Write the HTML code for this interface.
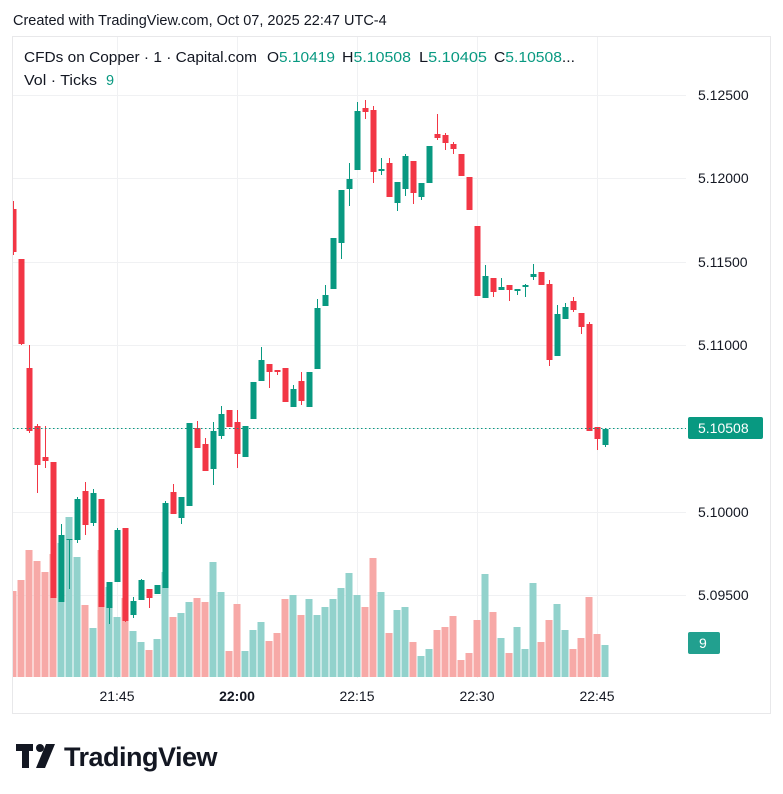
<!DOCTYPE html>
<html><head><meta charset="utf-8"><style>
body{margin:0;background:#fff;width:783px;height:794px;overflow:hidden;font-family:"Liberation Sans",sans-serif}
</style></head><body>
<svg id="s" width="783" height="794" xmlns="http://www.w3.org/2000/svg" style="position:absolute;left:0;top:0">
<text x="13" y="25" font-size="14.5" fill="#131722" font-family="Liberation Sans, sans-serif">Created with TradingView.com, Oct 07, 2025 22:47 UTC-4</text>
<rect x="12.5" y="36.5" width="758" height="677" fill="#fff" stroke="#e8e8ea"/>
<g id="grid" stroke="#f0f1f3" stroke-width="1"></g>
<g id="vol"></g>
<g id="cdl"></g>
<line x1="13" y1="428.5" x2="686" y2="428.5" stroke="#089981" stroke-dasharray="1.5,2.5"/>
<g font-size="14.5" fill="#131722" font-family="Liberation Sans, sans-serif">
<text x="24" y="62" textLength="233" lengthAdjust="spacingAndGlyphs">CFDs on Copper · 1 · Capital.com</text>
<text x="267" y="62" textLength="68" lengthAdjust="spacingAndGlyphs">O<tspan fill="#089981">5.10419</tspan></text>
<text x="342" y="62" textLength="69" lengthAdjust="spacingAndGlyphs">H<tspan fill="#089981">5.10508</tspan></text>
<text x="419" y="62" textLength="68" lengthAdjust="spacingAndGlyphs">L<tspan fill="#089981">5.10405</tspan></text>
<text x="494" y="62" textLength="81" lengthAdjust="spacingAndGlyphs">C<tspan fill="#089981">5.10508</tspan>...</text>
<text x="24" y="85" textLength="73" lengthAdjust="spacingAndGlyphs">Vol · Ticks</text>
<text x="106" y="85" fill="#089981">9</text>
</g>
<g id="axis" font-size="14" fill="#131722" font-family="Liberation Sans, sans-serif"></g>
<rect x="688" y="417" width="75" height="22" rx="2" fill="#089981"/>
<text x="698" y="433" font-size="14" fill="#fff" font-family="Liberation Sans, sans-serif">5.10508</text>
<rect x="688" y="632" width="32" height="22" rx="2" fill="#22a08f"/>
<text x="699" y="648" font-size="14" fill="#fff" font-family="Liberation Sans, sans-serif">9</text>
<g fill="#131722">
<rect x="16" y="744" width="17" height="7"/>
<rect x="22" y="744" width="7" height="24"/>
<circle cx="40" cy="748" r="4"/>
<polygon points="46,744 55,744 45,768 36,768"/>
<text x="64" y="766" font-size="27" font-weight="bold" font-family="Liberation Sans, sans-serif" letter-spacing="-0.5">TradingView</text>
</g>
</svg>
<script>
var NS="http://www.w3.org/2000/svg";
function el(p,t,a){var e=document.createElementNS(NS,t);for(var k in a)e.setAttribute(k,a[k]);p.appendChild(e);return e;}
var g=document.getElementById('grid');
[95,178,262,345,428,512,595].forEach(function(y){el(g,'line',{x1:13,x2:686,y1:y+.5,y2:y+.5});});
[117,237,357,477,597].forEach(function(x){el(g,'line',{x1:x+.5,x2:x+.5,y1:37,y2:678});});
var ax=document.getElementById('axis');
[["5.12500",95],["5.12000",178],["5.11500",262],["5.11000",345],["5.10000",512],["5.09500",595]].forEach(function(a){var t=el(ax,'text',{x:698,y:a[1]+5});t.textContent=a[0];});
[["21:45",117,0],["22:00",237,1],["22:15",357,0],["22:30",477,0],["22:45",597,0]].forEach(function(a){var t=el(ax,'text',{x:a[1],y:701,'text-anchor':'middle','font-weight':a[2]?'bold':'normal'});t.textContent=a[0];});
var C=[
[209,252,201,255,0,591],[259,344,259,345,0,580],[368,431,345,433,0,550],[426,465,424,493,0,561],[457,461,426,468,0,572],
[462,598,462,598,0,554],[535,602,524,602,1,543],[539,540,539,589,1,517],[499,540,497,543,1,557],[491,525,482,535,0,605],
[493,523,489,526,1,628],[499,607,499,607,0,550],[582,608,582,624,1,587],[530,582,528,582,1,617],[528,621,528,622,0,598],
[601,615,597,618,1,631],[580,600,579,600,1,642],[589,598,589,608,0,650],[585,594,585,594,1,639],[503,588,501,588,1,572],
[492,514,484,514,0,617],[497,518,497,524,1,613],[423,506,423,506,1,602],[428,448,421,448,0,598],[444,471,438,471,0,602],
[431,469,422,485,1,562],[414,436,406,439,1,592],[410,427,410,427,0,651],[422,454,410,468,0,604],[426,457,426,457,1,651],
[382,419,382,419,1,630],[360,381,347,381,1,622],[364,372,364,388,0,641],[370,372,370,375,0,633],[368,402,368,402,0,599],
[389,407,385,407,1,595],[381,401,372,405,0,615],[372,407,372,407,1,599],[308,369,299,369,1,615],[295,306,285,306,1,607],
[238,289,238,289,1,599],[190,243,190,259,1,588],[179,189,163,206,1,573],[111,170,102,170,1,595],[108,112,100,119,0,607],
[110,172,106,183,0,558],[169,171,158,175,1,592],[163,197,158,197,0,633],[182,203,182,211,1,610],[156,189,154,196,1,607],
[161,193,161,204,0,642],[183,197,183,200,1,656],[146,183,146,183,1,649],[134,138,114,140,0,630],[135,143,133,150,0,627],
[144,149,142,154,0,616],[154,176,154,176,0,660],[177,210,177,210,0,653],[226,296,226,296,0,620],[276,298,265,298,1,574],
[278,292,278,297,0,612],[287,290,278,290,1,638],[285,290,285,301,0,653],[289,291,289,295,1,627],[285,287,284,297,1,649],
[274,277,264,280,1,583],[272,285,272,285,0,642],[284,360,280,366,0,620],[314,356,305,356,1,604],[307,319,303,319,1,630],
[301,310,297,312,0,649],[313,327,313,334,0,638],[324,431,322,431,0,597],[427,439,427,450,0,634],[429,445,429,447,1,645]];
var V=document.getElementById('vol'),K=document.getElementById('cdl');
C.forEach(function(c,i){var x=13+8*i;var col=c[4]?'#089981':'#F23645';var vc=c[4]?'#92D2CC':'#F7A9A7';
var vx=x-3.5,vw=7;if(vx<13){vw-=13-vx;vx=13;}
el(V,'rect',{x:vx,y:c[5],width:vw,height:677-c[5],fill:vc});
el(K,'rect',{x:x,y:c[2],width:1,height:Math.max(1,c[3]-c[2]),fill:col});
var bx=x-2.5,bw=6;if(bx<13){bw-=13-bx;bx=13;}
el(K,'rect',{x:bx,y:c[0],width:bw,height:Math.max(1,c[1]-c[0]),fill:col});});
</script>
</body></html>
